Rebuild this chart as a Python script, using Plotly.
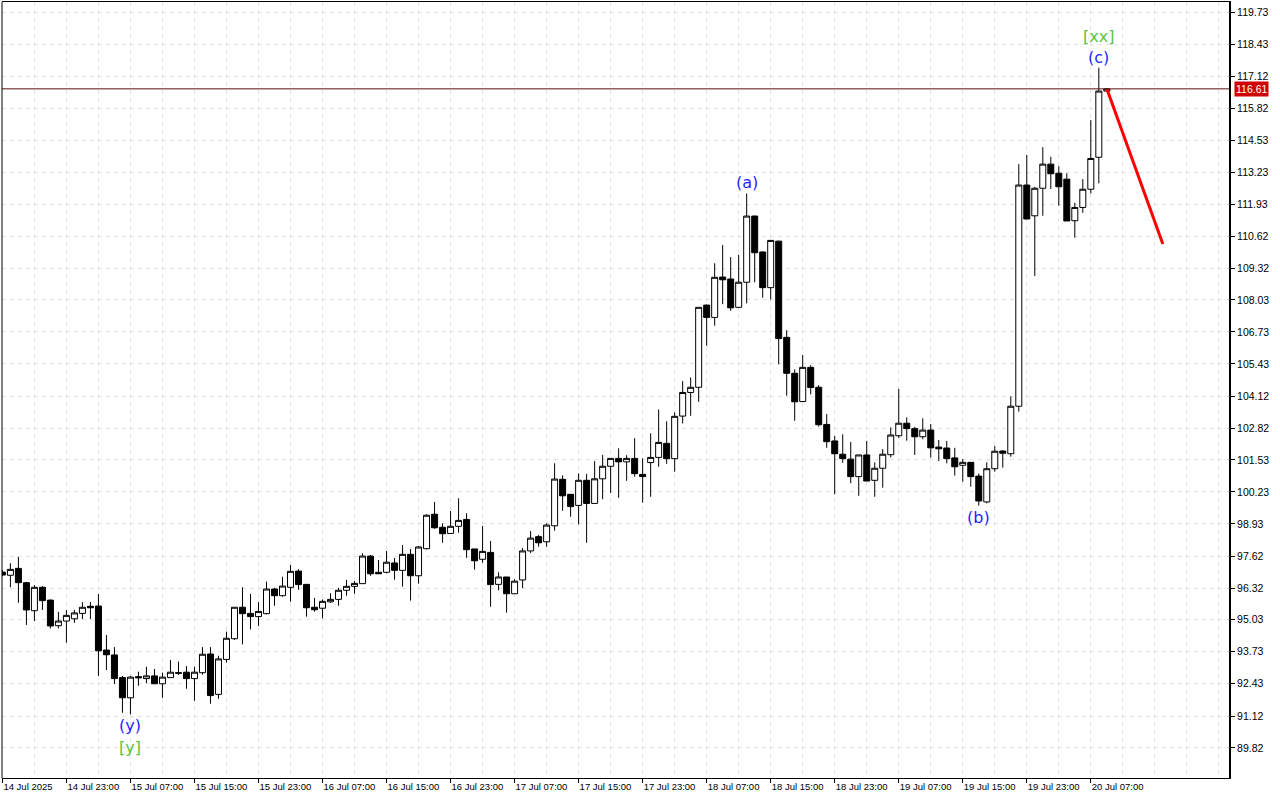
import pandas as pd
import plotly.graph_objects as go

# hourly candles, 14 Jul 2025 15:00 -> 20 Jul 2025 09:00
start_time = "2025-07-14 15:00"

opens = [96.97, 96.84, 97.12, 96.54, 95.40, 96.35, 95.83, 94.79, 94.98, 95.07,
         95.29, 95.58, 95.59, 93.80, 93.60, 92.68, 91.86, 92.72, 92.64, 92.75,
         92.43, 92.68, 92.88, 92.90, 92.64, 92.88, 93.64, 92.00, 93.42, 94.26,
         95.54, 95.29, 95.16, 95.28, 96.28, 96.01, 96.35, 97.01, 96.47, 95.54,
         95.50, 95.76, 95.86, 96.23, 96.39, 96.50, 97.62, 96.96, 96.96, 97.34,
         97.04, 97.69, 96.82, 97.92, 99.32, 98.79, 98.54, 98.83, 99.11, 97.91,
         97.49, 97.77, 96.47, 96.77, 96.09, 96.65, 97.83, 98.41, 98.20, 98.85,
         100.74, 100.13, 99.68, 100.70, 99.76, 100.76, 101.27, 101.59, 101.45, 101.59,
         100.94, 101.42, 101.63, 102.20, 101.58, 103.31, 104.27, 104.48, 107.82, 107.32,
         108.96, 108.88, 107.73, 108.75, 111.44, 109.98, 108.53, 110.42, 106.51, 105.05,
         103.90, 105.29, 104.48, 102.97, 102.30, 101.76, 101.56, 100.85, 101.73, 100.70,
         101.19, 101.74, 102.51, 103.02, 102.80, 102.47, 102.74, 102.05, 102.01, 101.61,
         101.31, 101.43, 100.87, 99.82, 101.17, 101.89, 101.78, 103.71, 112.70, 111.45,
         112.57, 113.55, 113.18, 112.94, 111.25, 111.79, 112.53, 113.83, 116.52]

highs = [97.05, 97.33, 97.59, 96.57, 96.44, 96.40, 95.86, 95.35, 95.43, 95.43,
         95.75, 95.75, 96.08, 94.41, 93.92, 92.75, 92.75, 92.92, 93.12, 93.03,
         92.88, 93.40, 93.33, 93.15, 93.12, 93.92, 93.92, 93.57, 94.55, 95.55,
         96.35, 96.08, 95.75, 96.58, 96.33, 96.78, 97.26, 97.09, 96.48, 95.92,
         95.86, 96.11, 96.33, 96.65, 96.60, 97.73, 97.66, 97.46, 97.83, 97.54,
         98.07, 97.91, 98.03, 99.32, 99.82, 98.95, 99.45, 99.97, 99.36, 97.91,
         98.84, 98.23, 96.96, 96.77, 96.68, 97.95, 98.64, 98.48, 98.95, 101.39,
         100.90, 100.14, 100.98, 100.96, 101.48, 101.73, 101.60, 102.00, 101.72, 102.41,
         101.59, 102.61, 103.58, 103.10, 103.46, 104.73, 104.88, 107.74, 107.85, 109.52,
         110.26, 109.77, 109.86, 112.36, 111.46, 110.00, 110.47, 110.44, 106.80, 105.21,
         105.79, 105.38, 104.57, 103.39, 102.50, 102.57, 102.26, 101.73, 102.30, 101.43,
         101.97, 102.85, 104.41, 103.26, 102.88, 103.22, 102.99, 102.34, 102.30, 102.02,
         101.56, 101.44, 100.98, 101.43, 102.09, 101.93, 104.11, 113.55, 113.92, 112.63,
         114.24, 113.85, 113.47, 113.18, 111.98, 112.94, 115.34, 117.47, 116.64]

lows = [96.80, 96.35, 95.72, 94.82, 94.98, 95.43, 94.68, 94.68, 94.10, 94.91,
        95.06, 95.06, 92.75, 92.99, 92.42, 91.25, 91.19, 92.35, 92.45, 92.43,
        91.86, 92.68, 92.79, 92.23, 91.74, 92.80, 91.62, 91.82, 93.29, 94.21,
        94.03, 94.64, 94.78, 95.25, 95.60, 95.97, 95.77, 96.25, 95.16, 95.36,
        95.09, 95.72, 95.60, 96.01, 96.09, 96.50, 96.82, 96.90, 96.92, 96.66,
        96.38, 95.81, 96.50, 97.89, 98.73, 98.16, 98.54, 98.57, 97.55, 97.07,
        97.35, 95.56, 96.23, 95.32, 96.09, 96.32, 97.74, 98.00, 98.00, 98.65,
        99.46, 99.22, 98.91, 98.16, 99.76, 99.93, 100.19, 99.99, 100.68, 100.85,
        99.79, 100.03, 101.25, 101.37, 101.05, 103.01, 103.32, 103.89, 106.17, 106.98,
        107.86, 107.59, 107.72, 107.89, 108.75, 108.12, 108.05, 105.41, 104.14, 103.12,
        103.89, 104.19, 102.88, 102.02, 100.13, 101.41, 100.58, 100.07, 100.67, 100.03,
        100.40, 101.63, 102.42, 102.31, 101.73, 102.37, 101.62, 101.48, 101.39, 100.89,
        100.64, 100.44, 99.67, 99.76, 101.05, 101.21, 101.66, 103.49, 111.32, 109.00,
        111.45, 112.54, 111.86, 111.24, 110.56, 111.57, 112.36, 112.77, 116.50]

closes = [96.85, 97.08, 96.54, 95.43, 96.35, 95.81, 94.78, 94.98, 95.21, 95.31,
          95.54, 95.52, 93.77, 93.61, 92.64, 91.86, 92.70, 92.67, 92.75, 92.43,
          92.70, 92.90, 92.86, 92.64, 92.90, 93.63, 91.95, 93.44, 94.28, 95.54,
          95.28, 95.16, 95.37, 96.28, 96.01, 96.40, 97.00, 96.46, 95.52, 95.44,
          95.78, 95.86, 96.23, 96.39, 96.51, 97.62, 96.90, 96.90, 97.37, 97.04,
          97.69, 96.82, 97.99, 99.28, 98.77, 98.53, 98.83, 99.07, 97.88, 97.43,
          97.81, 96.46, 96.77, 96.09, 96.60, 97.83, 98.35, 98.16, 98.88, 100.75,
          100.07, 99.63, 100.70, 99.76, 100.76, 101.27, 101.59, 101.45, 101.59, 100.97,
          100.85, 101.63, 102.24, 101.58, 103.30, 104.27, 104.48, 107.73, 107.32, 108.95,
          108.85, 107.71, 108.75, 111.44, 109.95, 108.53, 110.45, 106.46, 105.05, 103.89,
          105.29, 104.47, 102.96, 102.27, 101.78, 101.58, 100.85, 101.73, 100.67, 101.19,
          101.76, 102.54, 103.02, 102.80, 102.47, 102.74, 102.02, 101.98, 101.58, 101.25,
          101.43, 100.85, 99.86, 101.17, 101.88, 101.80, 103.71, 112.70, 111.32, 112.57,
          113.55, 113.16, 112.63, 111.24, 111.79, 112.53, 113.78, 116.52, 116.61]

# forecast arrow
forecast_x = ["2025-07-20 09:00", "2025-07-20 16:00"]
forecast_y = [116.61, 110.30]

y_ticks = [119.73, 118.43, 117.12, 115.82, 114.53, 113.23, 111.93, 110.62, 109.32,
           108.03, 106.73, 105.43, 104.12, 102.82, 101.53, 100.23, 98.93, 97.62,
           96.32, 95.03, 93.73, 92.43, 91.12, 89.82]

x_tick_times = ["2025-07-14 15:00", "2025-07-14 23:00", "2025-07-15 07:00", "2025-07-15 15:00",
                "2025-07-15 23:00", "2025-07-16 07:00", "2025-07-16 15:00", "2025-07-16 23:00",
                "2025-07-17 07:00", "2025-07-17 15:00", "2025-07-17 23:00", "2025-07-18 07:00",
                "2025-07-18 15:00", "2025-07-18 23:00", "2025-07-19 07:00", "2025-07-19 15:00",
                "2025-07-19 23:00", "2025-07-20 07:00"]
x_tick_labels = ["14 Jul 2025", "14 Jul 23:00", "15 Jul 07:00", "15 Jul 15:00",
                 "15 Jul 23:00", "16 Jul 07:00", "16 Jul 15:00", "16 Jul 23:00",
                 "17 Jul 07:00", "17 Jul 15:00", "17 Jul 23:00", "18 Jul 07:00",
                 "18 Jul 15:00", "18 Jul 23:00", "19 Jul 07:00", "19 Jul 15:00",
                 "19 Jul 23:00", "20 Jul 07:00"]

# wave marks: (text, candle index, above/below, colour, extra offset px)
BLUE = "#1f1fff"
GREEN = "#5cc43a"
wave_marks = [("(y)", 16, "below", BLUE, 0), ("[y]", 16, "below", GREEN, 22),
              ("(a)", 93, "above", BLUE, 0), ("(b)", 122, "below", BLUE, 0),
              ("(c)", 137, "above", BLUE, 0), ("[xx]", 137, "above", GREEN, 21)]

times = pd.date_range(start_time, periods=len(closes), freq="h")

fig = go.Figure()
fig.add_trace(go.Candlestick(
    x=times, open=opens, high=highs, low=lows, close=closes,
    increasing=dict(line=dict(color="black", width=1), fillcolor="white"),
    decreasing=dict(line=dict(color="black", width=1), fillcolor="black"),
    whiskerwidth=0, hoverinfo="skip", showlegend=False,
))
fig.add_trace(go.Scatter(
    x=pd.to_datetime(forecast_x), y=forecast_y, mode="lines",
    line=dict(color="#ff0000", width=3), hoverinfo="skip", showlegend=False,
))

# current price line and label
fig.add_hline(y=closes[-1], line=dict(color="#5a1010", width=1))
fig.add_annotation(x=1, xref="paper", y=closes[-1], yref="y", text=f"{closes[-1]:.2f}",
                   showarrow=False, xanchor="left", xshift=5, bgcolor="#d00000",
                   font=dict(color="white", size=10.5, family="Liberation Sans"),
                   borderpad=1)

for text, k, pos, color, off in wave_marks:
    if pos == "above":
        fig.add_annotation(x=times[k], y=highs[k], text=text, showarrow=False,
                           yanchor="bottom", yshift=off - 1,
                           font=dict(color=color, size=16, family="DejaVu Sans"))
    else:
        fig.add_annotation(x=times[k], y=lows[k], text=text, showarrow=False,
                           yanchor="top", yshift=-off,
                           font=dict(color=color, size=16, family="DejaVu Sans"))

# left border
fig.add_shape(type="line", xref="paper", yref="paper", x0=0, x1=0, y0=0, y1=1,
              line=dict(color="black", width=1))

grid = dict(gridcolor="#e2e2e2", griddash="4px,4px", gridwidth=1)
fig.update_layout(
    width=1280, height=800,
    margin=dict(l=2, r=51, t=2, b=22),
    paper_bgcolor="white", plot_bgcolor="white",
    boxgap=0.25, boxgroupgap=0,
    font=dict(family="Liberation Sans", size=10.5, color="black"),
    xaxis=dict(
        type="date", rangeslider=dict(visible=False), automargin=False,
        range=["2025-07-14 14:57", "2025-07-21 00:16"],
        tickvals=pd.to_datetime(x_tick_times), ticktext=x_tick_labels,
        ticklabelposition="outside right", tickangle=0,
        tickfont=dict(size=9.5),
        ticks="outside", ticklen=4, tickcolor="black",
        showline=True, linecolor="black", linewidth=1, mirror=True,
        showgrid=True, **grid,
        minor=dict(dtick=4 * 3600 * 1000, tick0=start_time, showgrid=True, ticklen=0, **grid),
        zeroline=False,
    ),
    yaxis=dict(
        side="right", range=[88.60, 120.14], automargin=False,
        tickvals=y_ticks, ticktext=[f"{v:.2f}" for v in y_ticks],
        ticks="outside", ticklen=4, tickcolor="black",
        showline=True, linecolor="black", linewidth=2,
        showgrid=True, **grid, zeroline=False,
    ),
)

# drop the browser's default 8px page margin so the figure fills the window
fig.write_html("out.html", config={"displayModeBar": False},
               post_script="document.body.style.margin='0';")
